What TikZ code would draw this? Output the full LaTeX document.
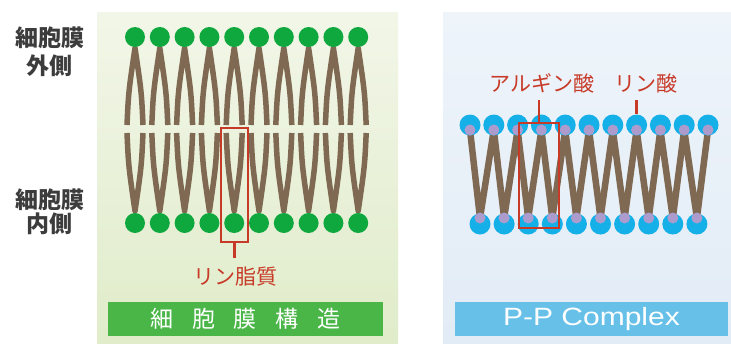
\documentclass[tikz,border=0pt]{standalone}
\usepackage{fontspec}
\setmainfont{Liberation Sans}
\newfontfamily\jp{Noto Sans CJK JP}
\usetikzlibrary{calc}

\definecolor{headgreen}{RGB}{14,168,62}
\definecolor{tailbrown}{RGB}{128,105,82}
\definecolor{callred}{RGB}{200,58,40}
\definecolor{bargreen}{RGB}{74,182,72}
\definecolor{barblue}{RGB}{102,192,232}
\definecolor{headblue}{RGB}{22,176,232}
\definecolor{headlilac}{RGB}{172,156,206}
\definecolor{sidegray}{RGB}{60,60,60}

\begin{document}
\begin{tikzpicture}[x=1pt,y=-1pt,
  tail/.style={draw=tailbrown,line width=5.5pt,line join=round},
  ztail/.style={draw=tailbrown,line width=6.5pt,line join=round},
  gball/.style={circle,fill=headgreen,inner sep=0,minimum size=20pt},
  bball/.style={circle,fill=headblue,inner sep=0,minimum size=21pt},
  lball/.style={circle,fill=headlilac,inner sep=0,minimum size=11pt},
  callbox/.style={draw=callred,line width=2.6pt,inner sep=0},
  callout/.style={draw=callred,line width=2.6pt},
  calltext/.style={text=callred,inner sep=0,font=\jp\fontsize{21}{21}\selectfont},
  sidetext/.style={text=sidegray,inner sep=0,font=\jp\bfseries\fontsize{23}{23}\selectfont},
  bar/.style={inner sep=0,minimum height=34pt,text=white}]

\useasboundingbox (0,0) rectangle (731,343);
\fill[white] (0,0) rectangle (731,343);

% panel backgrounds
\fill[top color={rgb,255:red,242;green,246;blue,232},bottom color={rgb,255:red,224;green,236;blue,202}]
  (97,12) rectangle (398,343);
\fill[top color={rgb,255:red,238;green,244;blue,250},bottom color={rgb,255:red,226;green,236;blue,246}]
  (443,12) rectangle (731,343);

% ---------- cell membrane bilayer ----------
\foreach \i in {0,...,9}{
  \pgfmathsetmacro\x{135+24.8*\i}
  \coordinate (gt\i) at (\x,37);
  \coordinate (gb\i) at (\x,223);
  \draw[tail] ($(gt\i)+(-8,88)$) .. controls ($(gt\i)+(-6.5,55)$) .. ($(gt\i)+(0,11)$)
              .. controls ($(gt\i)+(6.5,55)$) .. ($(gt\i)+(8,88)$);
  \draw[tail] ($(gb\i)+(-8,-90)$) .. controls ($(gb\i)+(-6.5,-57)$) .. ($(gb\i)+(0,-12)$)
              .. controls ($(gb\i)+(6.5,-57)$) .. ($(gb\i)+(8,-90)$);
  \node[gball] (ght\i) at (gt\i) {};
  \node[gball] (ghb\i) at (gb\i) {};
}

% side labels
\node[sidetext] (out1) at (50,38) {細胞膜};
\node[sidetext] (out2) at (49,66) {外側};
\node[sidetext] (in1) at (50,200) {細胞膜};
\node[sidetext] (in2) at (49,224) {内側};

% phospholipid callout
\node[callbox,minimum width=27pt,minimum height=114pt] (lipidbox) at (234.5,185) {};
\coordinate (lipidtip) at (234.5,258);
\draw[callout] (lipidbox.south) -- (lipidtip);
\node[calltext] (lipidlbl) at (235,277) {リン脂質};

% title bar
\node[bar,fill=bargreen,minimum width=275pt,font=\jp\fontsize{23}{23}\selectfont] (gbar) at (245.5,319)
  {細\hspace{19pt}胞\hspace{19pt}膜\hspace{19pt}構\hspace{19pt}造};

% ---------- P-P complex layer ----------
\foreach \i in {0,...,10}{
  \pgfmathsetmacro\x{470+23.8*\i}
  \coordinate (pt\i) at (\x,130);
}
\foreach \i in {0,...,9}{
  \pgfmathsetmacro\x{480+24.1*\i}
  \coordinate (pb\i) at (\x,218);
}
\draw[ztail] (pt0) \foreach \i [evaluate=\i as \j using int(\i+1)] in {0,...,9} { -- (pb\i) -- (pt\j) };
\foreach \i in {0,...,10}{
  \node[bball] (bt\i) at ($(pt\i)+(0,-5)$) {};
  \node[lball] (lt\i) at (pt\i) {};
}
\foreach \i in {0,...,9}{
  \node[bball] (bb\i) at ($(pb\i)+(0,6)$) {};
  \node[lball] (lb\i) at (pb\i) {};
}

% callouts
\node[callbox,minimum width=40pt,minimum height=105pt] (argbox) at (539,175.5) {};
\coordinate (argtip) at (539,100);
\draw[callout] (argbox.north) -- (argtip);
\node[calltext] (arglbl) at (542,83) {アルギン酸};
\coordinate (phostip) at (bt7 |- argtip);
\draw[callout] (phostip) -- (bt7.north);
\node[calltext] (phoslbl) at (645.5,83) {リン酸};

% title bar
\node[bar,fill=barblue,minimum width=273pt,font=\fontsize{25}{25}\selectfont] (bbar) at (591.5,319)
  {\scalebox{1.2}[1]{P-P Complex}};

\end{tikzpicture}
\end{document}
